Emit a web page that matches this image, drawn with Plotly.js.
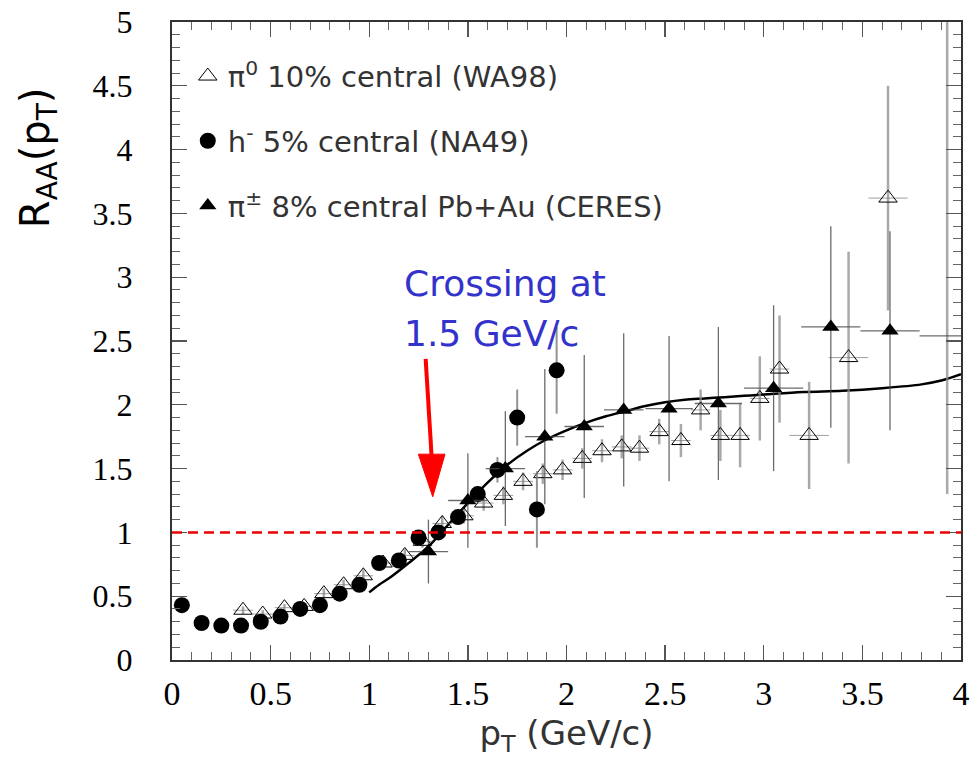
<!DOCTYPE html>
<html>
<head>
<meta charset="utf-8">
<script src="https://cdn.plot.ly/plotly-3.0.1.min.js"></script>
<style>html,body{margin:0;padding:0;background:#fff;}#chart{width:971px;height:758px;}</style>
</head>
<body>
<div id="chart"></div>
<script>
// WA98 pi0 10% central (open triangles)
const wa98X = [0.36,0.46,0.57,0.67,0.77,0.87,0.97,1.07,1.18,1.27,1.37,1.48,1.58,1.68,1.78,1.88,1.98,2.08,2.18,2.28,2.37,2.47,2.58,2.68,2.78,2.88,2.98,3.08,3.23,3.43,3.63,3.93];
const wa98Y = [0.39,0.36,0.41,0.42,0.52,0.59,0.66,0.76,0.82,0.93,1.07,1.13,1.23,1.29,1.40,1.46,1.49,1.58,1.64,1.67,1.66,1.79,1.72,1.96,1.76,1.76,2.05,2.28,1.76,2.37,3.62,5.6];
const wa98Err = [0.03,0.03,0.03,0.03,0.04,0.04,0.05,0.05,0.05,0.05,0.06,0.06,0.06,0.07,0.07,0.08,0.08,0.08,0.09,0.09,0.1,0.1,0.13,0.16,0.2,0.25,0.33,0.42,0.42,0.83,0.88,4.3];
const wa98XErr = [0.05,0.05,0.05,0.05,0.05,0.05,0.05,0.05,0.05,0.05,0.05,0.05,0.05,0.05,0.05,0.05,0.05,0.05,0.05,0.05,0.05,0.05,0.05,0.05,0.05,0.05,0.05,0.05,0.1,0.1,0.1,0.1];

// NA49 h- 5% central (filled circles)
const na49X = [0.05,0.15,0.25,0.35,0.45,0.55,0.65,0.75,0.85,0.95,1.05,1.15,1.25,1.35,1.45,1.55,1.65,1.75,1.85,1.95];
const na49Y = [0.43,0.29,0.27,0.27,0.30,0.34,0.40,0.43,0.52,0.59,0.76,0.78,0.96,1.00,1.12,1.30,1.49,1.90,1.18,2.27];
const na49Err = [0.02,0.02,0.02,0.02,0.02,0.02,0.02,0.02,0.03,0.03,0.03,0.04,0.05,0.05,0.06,0.06,0.1,0.22,0.3,0.34];

// CERES pi+- 8% central Pb+Au (filled triangles)
const ceresX = [1.30,1.50,1.69,1.89,2.09,2.29,2.52,2.77,3.05,3.34,3.64,4.10];
const ceresY = [0.85,1.25,1.50,1.75,1.83,1.96,1.97,2.01,2.13,2.61,2.58,2.54];
const ceresErr = [0.25,0.37,0.45,0.53,0.56,0.60,0.57,0.60,0.65,0.79,0.78,1.0];
const ceresXErr = [0.1,0.1,0.1,0.1,0.1,0.1,0.12,0.12,0.15,0.15,0.15,0.31];

// Theory curve
const curveX = [1.0,1.05,1.1,1.2,1.3,1.4,1.5,1.6,1.7,1.8,1.9,2.0,2.1,2.2,2.3,2.4,2.5,2.6,2.7,2.8,2.9,3.0,3.2,3.4,3.6,3.8,3.9,4.0];
const curveY = [0.53,0.59,0.64,0.76,0.89,1.06,1.23,1.39,1.53,1.64,1.73,1.80,1.86,1.91,1.95,1.99,2.02,2.04,2.05,2.06,2.07,2.08,2.10,2.11,2.13,2.16,2.19,2.24];

const xTicks = [0,0.5,1,1.5,2,2.5,3,3.5,4];
const xTickText = ['0','0.5','1','1.5','2','2.5','3','3.5','4'];
const yTicks = [0,0.5,1,1.5,2,2.5,3,3.5,4,4.5,5];
const yTickText = ['0','0.5','1','1.5','2','2.5','3','3.5','4','4.5','5'];

const traces = [
  {x: curveX, y: curveY, mode: 'lines', line: {color: '#000', width: 2.5, shape: 'spline'}, showlegend: false, hoverinfo: 'skip'},
  {x: wa98X, y: wa98Y, mode: 'markers', name: 'π<sup>0</sup> 10% central (WA98)', legendgroup: 'a',
   marker: {symbol: 'triangle-up-open', size: 16, color: '#000', line: {width: 1}},
   error_y: {type: 'data', array: wa98Err, color: 'rgba(140,140,140,0.75)', thickness: 2.5, width: 0},
   error_x: {type: 'data', array: wa98XErr, color: 'rgba(120,120,120,0.7)', thickness: 1, width: 0}},
  {x: na49X, y: na49Y, mode: 'markers', name: 'h<sup>-</sup> 5% central (NA49)', legendgroup: 'b',
   marker: {symbol: 'circle', size: 16, color: '#000'},
   error_y: {type: 'data', array: na49Err, color: 'rgba(120,120,120,0.8)', thickness: 2, width: 0}},
  {x: ceresX, y: ceresY, mode: 'markers', name: 'π<sup>±</sup> 8% central Pb+Au (CERES)', legendgroup: 'c',
   marker: {symbol: 'triangle-up', size: 15, color: '#000'},
   error_y: {type: 'data', array: ceresErr, color: 'rgba(70,70,70,0.8)', thickness: 1.3, width: 0},
   error_x: {type: 'data', array: ceresXErr, color: 'rgba(70,70,70,0.8)', thickness: 1.3, width: 0}}
];

const axisCommon = {
  showgrid: false, zeroline: false, showline: true, linecolor: '#333', linewidth: 2,
  mirror: 'allticks', ticks: 'inside', ticklen: 15, tickwidth: 1.3, tickcolor: '#555',
  minor: {ticks: 'inside', ticklen: 8, tickwidth: 1, tickcolor: '#666', dtick: 0.1}
};

const layout = {
  width: 971, height: 758,
  margin: {l: 172, r: 10, t: 21.5, b: 98},
  paper_bgcolor: '#fff', plot_bgcolor: '#fff',
  xaxis: Object.assign({}, axisCommon, {
    range: [0, 4], tickmode: 'array', tickvals: xTicks, ticktext: xTickText,
    tickfont: {family: 'Liberation Serif', size: 34, color: '#000'}, ticklabelstandoff: 2,
    title: {text: 'p<sub>T</sub> (GeV/c)', font: {family: 'DejaVu Sans', size: 34, color: '#333'}, standoff: 14}
  }),
  yaxis: Object.assign({}, axisCommon, {
    range: [0, 5], tickmode: 'array', tickvals: yTicks, ticktext: yTickText,
    tickfont: {family: 'Liberation Serif', size: 32, color: '#000'}, ticklabelstandoff: 31
  }),
  showlegend: true,
  legend: {x: 0.02, y: 0.955, xanchor: 'left', yanchor: 'top', bgcolor: 'rgba(0,0,0,0)',
    font: {family: 'DejaVu Sans', size: 29, color: '#333'}, traceorder: 'grouped', tracegroupgap: 24, itemwidth: 30},
  shapes: [
    {type: 'line', xref: 'x', yref: 'y', x0: 0, x1: 4, y0: 1, y1: 1, line: {color: 'rgb(235,0,0)', width: 2.5, dash: '10px,6px'}},
    {type: 'line', xref: 'x', yref: 'y', x0: 1.286, y0: 2.36, x1: 1.316, y1: 1.6, line: {color: '#ff0000', width: 4}},
    {type: 'path', xref: 'x', yref: 'y', path: 'M 1.249,1.613 L 1.384,1.613 L 1.322,1.279 Z', fillcolor: '#ff0000', line: {color: '#ff0000', width: 1}}
  ],
  annotations: [
    {x: 1.166, y: 2.95, xref: 'x', yref: 'y', xanchor: 'left', yanchor: 'middle', showarrow: false,
     text: 'Crossing at', font: {family: 'DejaVu Sans', size: 36, color: 'rgb(51,51,204)'}},
    {x: 1.166, y: 2.56, xref: 'x', yref: 'y', xanchor: 'left', yanchor: 'middle', showarrow: false,
     text: '1.5 GeV/c', font: {family: 'DejaVu Sans', size: 36, color: 'rgb(51,51,204)'}},
    {x: -0.17, y: 0.788, xref: 'paper', yref: 'paper', xanchor: 'center', yanchor: 'middle', showarrow: false, textangle: -90,
     text: 'R<sub>AA</sub>(p<sub>T</sub>)', font: {family: 'DejaVu Sans', size: 40, color: '#000'}}
  ]
};

Plotly.newPlot('chart', traces, layout, {displayModeBar: false, staticPlot: true});
</script>
</body>
</html>
